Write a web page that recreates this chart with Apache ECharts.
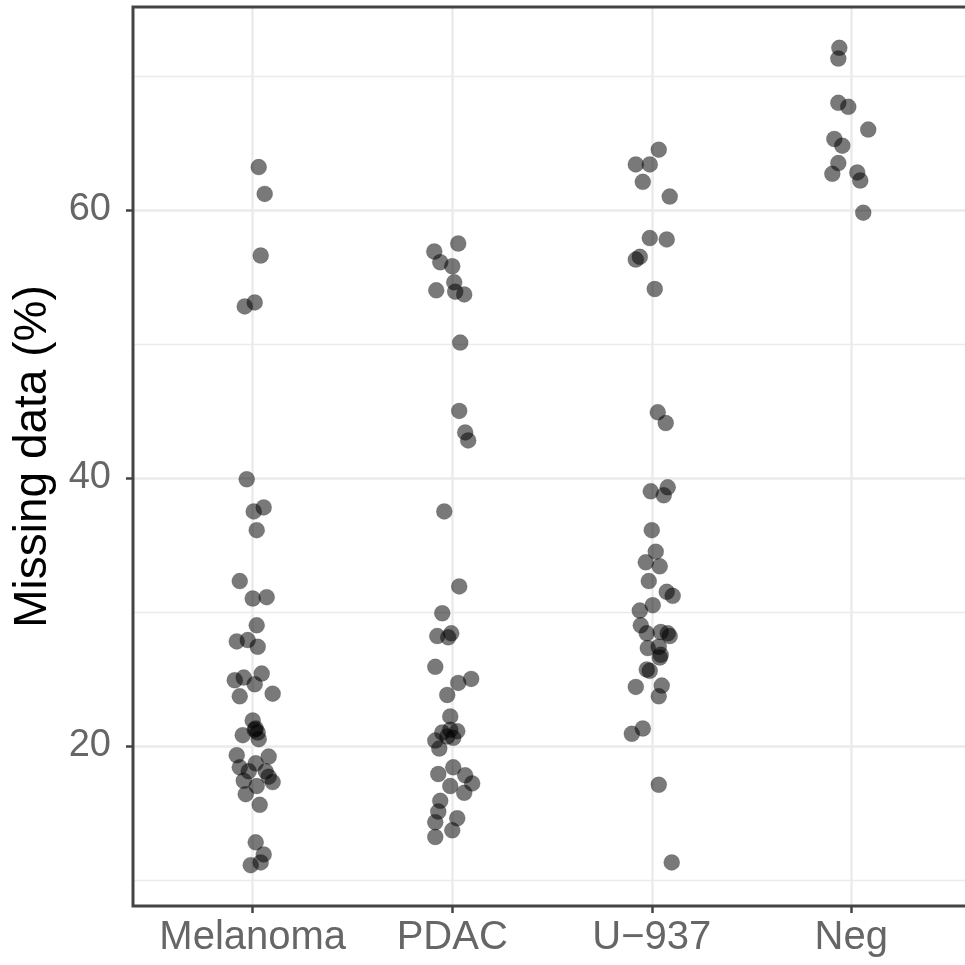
<!DOCTYPE html>
<html>
<head>
<meta charset="utf-8">
<script src="https://cdn.jsdelivr.net/npm/echarts@6/dist/echarts.min.js"></script>
<style>html,body{margin:0;padding:0;background:#fff;}#c{width:965px;height:965px;}</style>
</head>
<body>
<div id="c"></div>
<script>
var categories = ['Melanoma', 'PDAC', 'U\u2212937', 'Neg'];
var yTicks = [20, 40, 60];
var yMinorTicks = [10, 30, 50, 70];

var melanomaValues = [63.2,61.2,56.6,53.1,52.8,39.9,37.8,37.5,36.1,32.3,31.1,31.0,29.0,27.8,27.9,27.4,24.9,25.1,25.4,24.6,23.7,23.9,21.9,21.3,21.0,20.5,20.8,21.2,19.3,19.2,18.4,18.7,18.1,18.1,17.7,17.3,17.4,17.0,16.4,15.6,12.8,11.9,11.3,11.1];
var melanomaJitter = [0.03,0.06,0.04,0.01,-0.04,-0.03,0.055,0.005,0.02,-0.065,0.07,0,0.02,-0.08,-0.025,0.025,-0.09,-0.045,0.045,0.01,-0.065,0.10,0,0.015,0.025,0.03,-0.05,0.01,-0.08,0.08,-0.065,0.015,-0.02,0.065,0.08,0.10,-0.045,0.02,-0.035,0.035,0.015,0.055,0.04,-0.01];

var pdacValues = [57.5,56.9,56.1,55.8,54.6,54.0,53.9,53.7,50.1,45.0,43.4,42.8,37.5,31.9,29.9,28.2,28.4,28.1,25.9,24.7,25.0,23.8,22.2,21.0,21.2,21.1,20.7,20.6,20.4,19.8,18.4,17.9,17.8,17.0,17.2,16.5,15.9,15.1,14.6,14.3,13.7,13.2];
var pdacJitter = [0.03,-0.09,-0.06,0,0.01,-0.08,0.015,0.06,0.04,0.035,0.065,0.08,-0.04,0.035,-0.05,-0.075,-0.005,-0.02,-0.085,0.03,0.095,-0.025,-0.01,-0.05,-0.01,0.025,-0.025,0.005,-0.085,-0.065,0.005,-0.07,0.065,-0.01,0.10,0.06,-0.06,-0.07,0.025,-0.085,0,-0.085];

var u937Values = [64.5,63.4,63.4,62.1,61.0,57.9,57.8,56.5,56.3,54.1,44.9,44.1,39.0,39.3,38.7,36.1,34.5,33.7,33.4,32.3,31.5,31.2,30.1,30.5,29.0,28.4,28.5,28.4,28.2,27.3,27.4,26.8,26.6,25.7,25.6,24.4,24.5,23.7,21.3,20.9,17.1,11.3];
var u937Jitter = [0.035,-0.08,-0.01,-0.045,0.09,-0.01,0.075,-0.06,-0.08,0.015,0.03,0.07,-0.005,0.08,0.06,0,0.02,-0.03,0.04,-0.015,0.075,0.105,-0.06,0.005,-0.055,-0.025,0.045,0.08,0.09,-0.02,0.035,0.045,0.04,-0.025,-0.01,-0.08,0.05,0.035,-0.045,-0.10,0.035,0.10];

var negValues = [72.1,71.3,68.0,67.7,66.0,65.3,64.8,63.5,62.7,62.8,62.2,59.8];
var negJitter = [-0.06,-0.065,-0.065,-0.015,0.085,-0.085,-0.045,-0.065,-0.095,0.03,0.045,0.06];

var groups = [
  [melanomaValues, melanomaJitter],
  [pdacValues, pdacJitter],
  [u937Values, u937Jitter],
  [negValues, negJitter]
];
var points = [];
groups.forEach(function (g, i) {
  g[0].forEach(function (v, j) { points.push([i + 1 + g[1][j], v]); });
});

var FONT = '"Liberation Sans", Arial, Helvetica, sans-serif';
var chart = echarts.init(document.getElementById('c'), null, {renderer: 'canvas'});
chart.setOption({
  animation: false,
  backgroundColor: '#ffffff',
  grid: {left: 133, top: 7, width: 838, height: 899, containLabel: false, outerBoundsMode: 'none',
    show: true, borderColor: '#444444', borderWidth: 3, backgroundColor: 'transparent', z: 3},
  xAxis: {
    type: 'value', min: 0.4, max: 4.6,
    axisLine: {show: false},
    axisTick: {show: true, length: 7, lineStyle: {color: '#444444', width: 2.5}, customValues: [1, 2, 3, 4]},
    axisLabel: {customValues: [1, 2, 3, 4], margin: 12, fontSize: 40, color: '#666666', fontFamily: FONT,
      formatter: function (v) { return categories[Math.round(v) - 1] || ''; }},
    splitLine: {show: true, lineStyle: {color: '#ebebeb', width: 2.5}}
  },
  yAxis: [{
    type: 'value', min: 8.05, max: 75.15,
    name: 'Missing data (%)', nameLocation: 'middle', nameGap: 77, nameRotate: 90,
    nameTextStyle: {fontSize: 46, color: '#000000', fontFamily: FONT},
    axisLine: {show: false},
    axisTick: {show: true, length: 7, lineStyle: {color: '#444444', width: 2.5}, customValues: yTicks},
    axisLabel: {customValues: yTicks, margin: 22, fontSize: 38, color: '#666666', fontFamily: FONT},
    splitLine: {show: true, lineStyle: {color: '#ebebeb', width: 2.5}}
  }, {
    type: 'value', min: 8.05, max: 75.15, position: 'left',
    axisLine: {show: false},
    axisTick: {show: false, customValues: yMinorTicks},
    axisLabel: {show: false, customValues: yMinorTicks},
    splitLine: {show: true, lineStyle: {color: '#ebebeb', width: 1.3}}
  }],
  series: [{
    type: 'scatter', xAxisIndex: 0, yAxisIndex: 0,
    data: points, symbolSize: 16, z: 5,
    itemStyle: {color: 'rgba(0,0,0,0.66)', borderColor: 'rgba(0,0,0,0.22)', borderWidth: 0.8},
    silent: true
  }]
});
</script>
</body>
</html>
